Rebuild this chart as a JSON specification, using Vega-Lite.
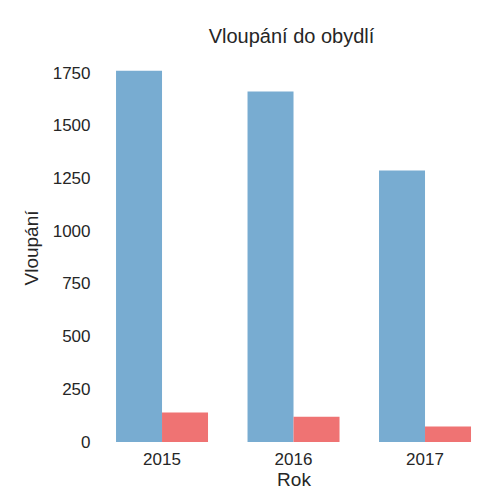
{
  "$schema": "https://vega.github.io/schema/vega-lite/v6.json",
  "width": 381,
  "height": 390,
  "autosize": {"type": "none"},
  "padding": {"left": 96, "top": 52, "right": 0, "bottom": 51},
  "background": "white",
  "config": {
    "view": {"stroke": null},
    "font": "Liberation Sans"
  },
  "title": {
    "text": "Vloupání do obydlí",
    "fontSize": 20,
    "fontWeight": "normal",
    "color": "#262626",
    "font": "Liberation Sans",
    "anchor": "middle",
    "frame": "group",
    "baseline": "alphabetic",
    "offset": 11,
    "dx": 5,
    "dy": 22
  },
  "data": {
    "values": [
      {"Rok": "2015", "skupina": "celkem", "Vloupani": 1761},
      {"Rok": "2015", "skupina": "objasněno", "Vloupani": 140},
      {"Rok": "2016", "skupina": "celkem", "Vloupani": 1663},
      {"Rok": "2016", "skupina": "objasněno", "Vloupani": 120},
      {"Rok": "2017", "skupina": "celkem", "Vloupani": 1288},
      {"Rok": "2017", "skupina": "objasněno", "Vloupani": 74}
    ]
  },
  "mark": {"type": "bar"},
  "encoding": {
    "x": {
      "field": "Rok",
      "type": "ordinal",
      "scale": {"paddingInner": 0.3004, "paddingOuter": 0.0989, "align": 0.77},
      "axis": {
        "title": "Rok",
        "labelAngle": 0,
        "domain": false,
        "ticks": false,
        "tickSize": 0,
        "labelPadding": 9,
        "labelFontSize": 17,
        "labelColor": "#262626",
        "labelFont": "Liberation Sans",
        "titleFontSize": 19,
        "titleFontWeight": "normal",
        "titleColor": "#262626",
        "titleFont": "Liberation Sans",
        "titleX": 197.5,
        "titleY": 43,
        "titleBaseline": "alphabetic",
        "titleAlign": "center"
      }
    },
    "xOffset": {
      "field": "skupina",
      "type": "nominal",
      "scale": {"paddingInner": 0, "paddingOuter": 0}
    },
    "y": {
      "field": "Vloupani",
      "type": "quantitative",
      "scale": {"domain": [0, 1850], "nice": false},
      "axis": {
        "title": "Vloupání",
        "values": [0, 250, 500, 750, 1000, 1250, 1500, 1750],
        "format": "d",
        "grid": false,
        "domain": false,
        "ticks": false,
        "tickSize": 0,
        "labelPadding": 6,
        "labelFontSize": 17,
        "labelColor": "#262626",
        "labelFont": "Liberation Sans",
        "titleFontSize": 19,
        "titleFontWeight": "normal",
        "titleColor": "#262626",
        "titleFont": "Liberation Sans",
        "titleAngle": -90,
        "titleX": -58.5,
        "titleY": 195.5,
        "titleBaseline": "alphabetic",
        "titleAlign": "center"
      }
    },
    "color": {
      "field": "skupina",
      "type": "nominal",
      "scale": {"domain": ["celkem", "objasněno"], "range": ["#78acd1", "#ef7373"]},
      "legend": null
    }
  }
}
